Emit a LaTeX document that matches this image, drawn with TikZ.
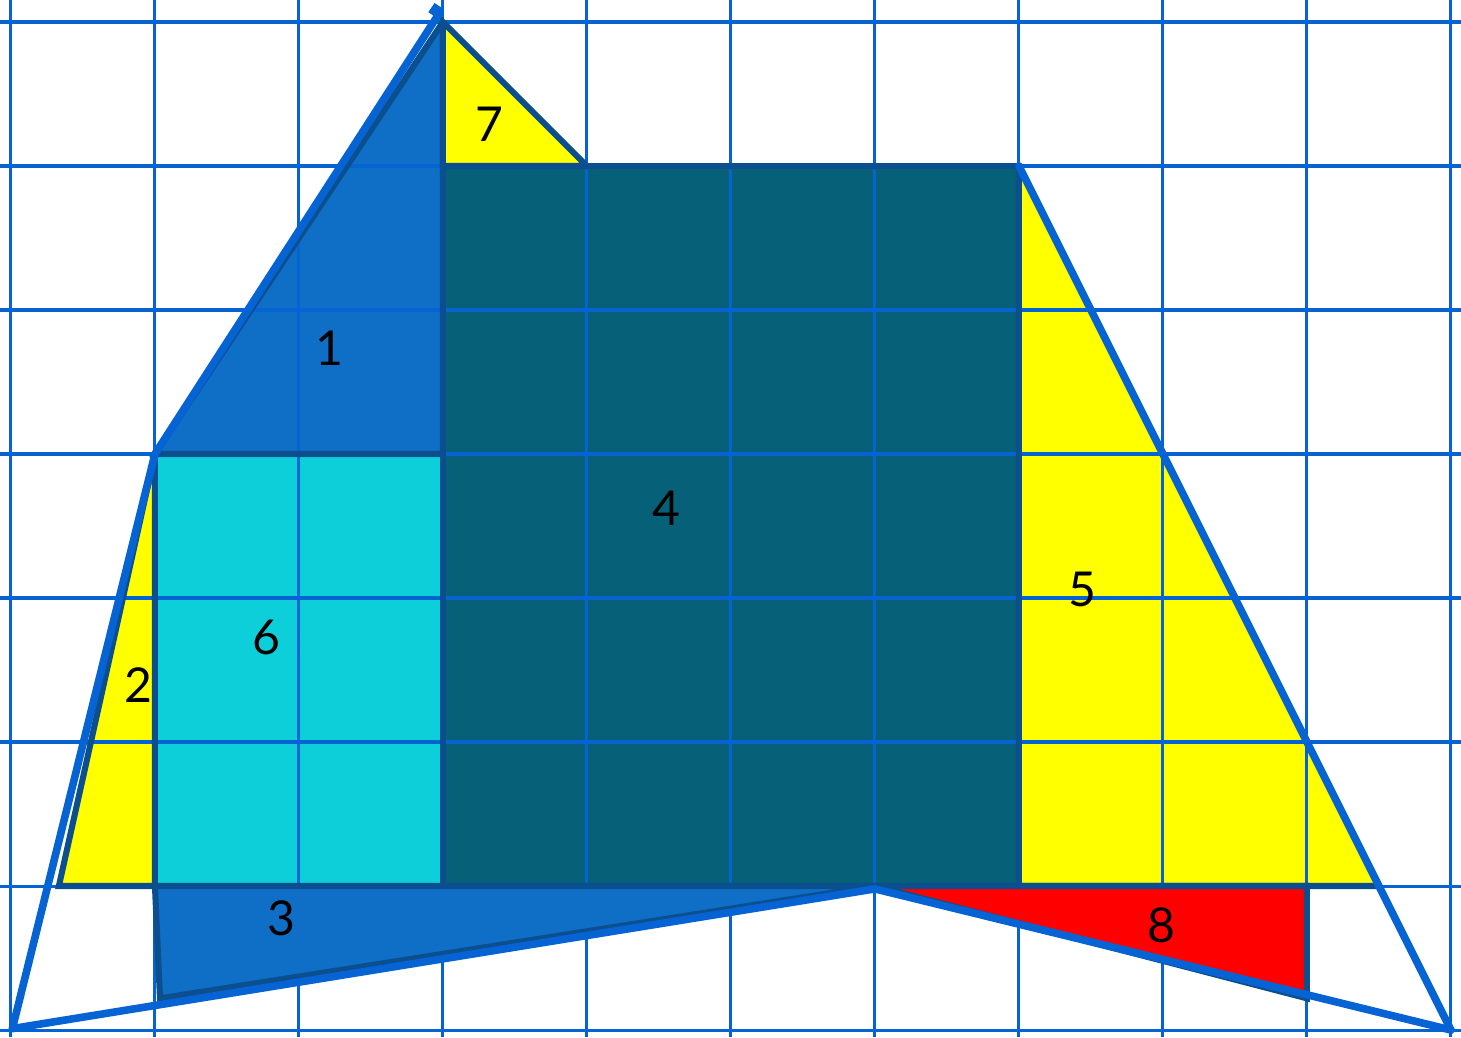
\documentclass[tikz,border=0pt]{standalone}
\usepackage{fontspec}
\setmainfont{Lato}
\definecolor{blueA}{HTML}{0F6FC6}
\definecolor{teal4}{HTML}{056078}
\definecolor{cyan6}{HTML}{0DCFDA}
\definecolor{yel}{HTML}{FFFF00}
\definecolor{redE}{HTML}{FF0000}
\definecolor{darkline}{HTML}{0B4F8E}
\definecolor{brightline}{HTML}{0563D3}
\begin{document}
\begin{tikzpicture}[x=1cm,y=1cm,
  dk/.style={draw=darkline, line width=1.2pt, line join=miter, miter limit=3},
  outer/.style={draw=brightline, line width=1.5pt, line cap=round, line join=round},
  gridl/.style={draw=brightline, line width=0.6pt},
  lbl/.style={font=\fontsize{9.5}{11}\selectfont, text=black, inner sep=0pt}]
\useasboundingbox (-0.076,-0.049) rectangle (10.07,7.153);
% named corner points
\coordinate (A) at (1,4);
\coordinate (T) at (3,7);
\coordinate (B) at (3,4);
\coordinate (C) at (1,1);
\coordinate (D) at (0.333,1);
\coordinate (E) at (3,1);
\coordinate (F) at (7,6);
\coordinate (G) at (7,1);
\coordinate (H) at (9.5,1);
\coordinate (I) at (4,6);
\coordinate (J) at (3,6);
\coordinate (K) at (6,1);
\coordinate (L) at (1.035,0.22);
\coordinate (M) at (9,1);
\coordinate (N) at (9,0.22);
\coordinate (O) at (0.01,0.01);
\coordinate (P) at (10,0);
\coordinate (Q) at (6,0.98);
\coordinate (Tx) at (2.98,7.07);
\coordinate (Tk1) at (2.92,7.1);
\coordinate (Tk2) at (2.98,7.06);
% fills under the grid
\fill[blueA] (A) -- (T) -- (B) -- cycle;
\fill[yel] (A) -- (C) -- (D) -- cycle;
\fill[teal4] (E) rectangle (F);
\fill[cyan6] (C) rectangle (B);
\fill[yel] (F) -- (G) -- (H) -- cycle;
% grid
\foreach \i in {0,...,10} \draw[gridl] (\i,-0.049) -- (\i,7.153);
\foreach \j in {0,...,7} \draw[gridl] (-0.076,\j) -- (10.07,\j);
% outlines
\draw[dk] (A) -- (T) -- (B) -- cycle;
\draw[dk] (A) -- (C) -- (D) -- cycle;
\draw[dk] (E) rectangle (F);
\draw[dk] (C) rectangle (B);
\draw[dk] (F) -- (G) -- (H) -- cycle;
% shapes over the grid
\filldraw[fill=yel, dk] (T) -- (I) -- (J) -- cycle;
\filldraw[fill=blueA, dk] (C) -- (K) -- (L) -- cycle;
\filldraw[fill=redE, dk] (K) -- (M) -- (N) -- cycle;
% outer lines
\draw[outer] (O) -- (Q) -- (P);
\draw[outer] (O) -- (A);
\draw[outer] (A) -- (Tx);
\draw[outer, line cap=butt, line width=2.2pt] (Tk1) -- (Tk2);
\draw[outer] (F) -- (P);
% labels
\node[lbl] (l7) at (3.32,6.29) {7};
\node[lbl] (l1) at (2.215,4.736) {1};
\node[lbl] (l4) at (4.549,3.625) {4};
\node[lbl] (l5) at (7.438,3.056) {5};
\node[lbl] (l6) at (1.771,2.729) {6};
\node[lbl] (l2) at (0.882,2.396) {2};
\node[lbl] (l3) at (1.875,0.778) {3};
\node[lbl] (l8) at (7.993,0.729) {8};
\end{tikzpicture}
\end{document}
